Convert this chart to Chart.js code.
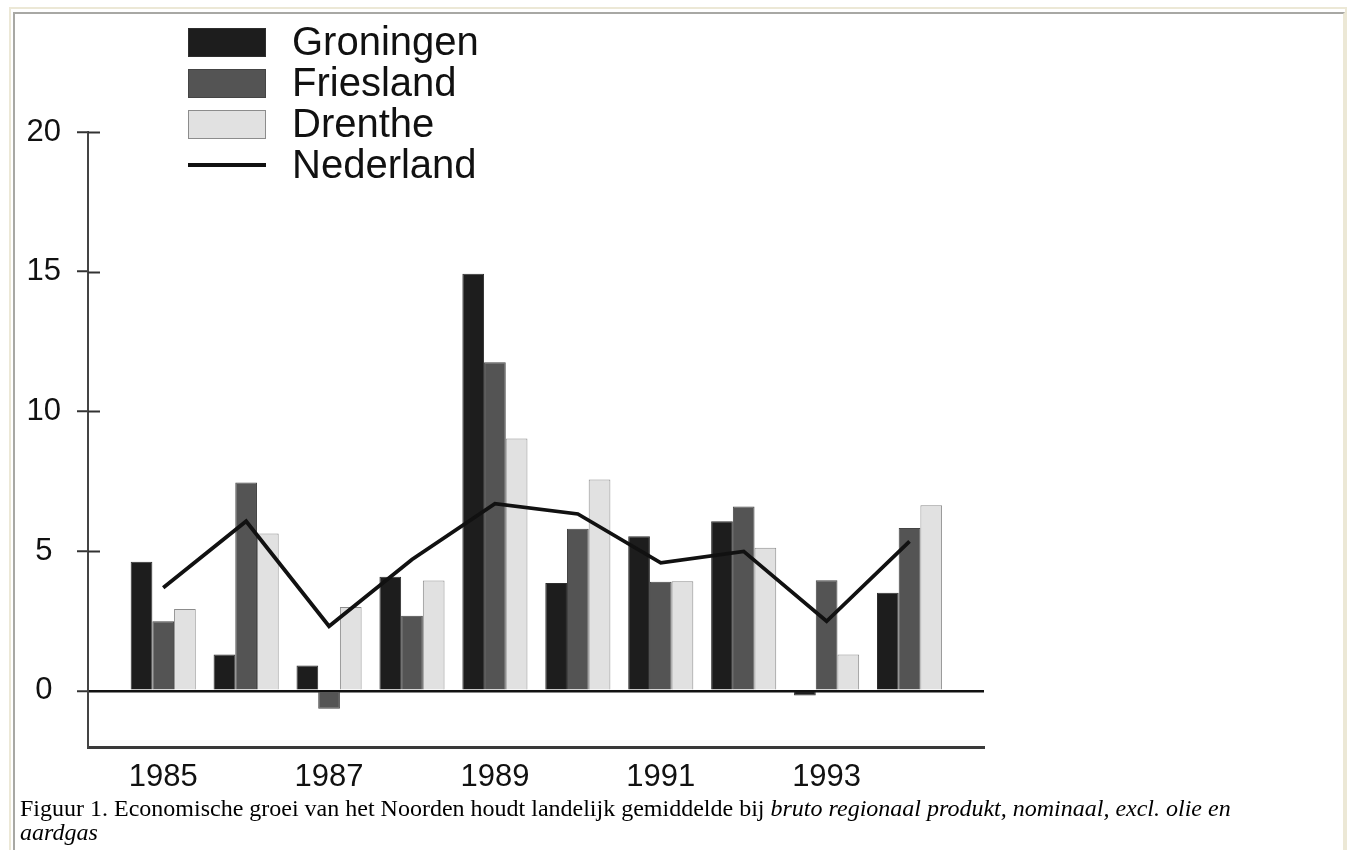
<!DOCTYPE html>
<html>
<head>
<meta charset="utf-8">
<title>Economische groei van het Noorden</title>
<script src="https://cdn.jsdelivr.net/npm/chart.js@4.4.1/dist/chart.umd.min.js"></script>
<style>
    html, body { margin: 0; padding: 0; background: #fff; }
    body { width: 1348px; height: 850px; position: relative; overflow: hidden; }
    .frame-outer {
        position: absolute; left: 9px; top: 7px; width: 1334px; height: 900px;
        border: 2px solid #ece8d6;
    }
    .frame-inner {
        position: absolute; left: 13px; top: 12px; width: 1328px; height: 900px;
        border-top: 2px solid #a8a8a4; border-left: 2px solid #a8a8a4; border-right: 2px solid #ece8d6;
    }
    #chart-wrap { position: absolute; left: 0; top: 0; width: 1348px; height: 800px; }
    #legend {
        position: absolute; left: 188px; top: 21px;
        font-family: "Liberation Sans", Arial, sans-serif; font-size: 40px; color: #111;
    }
    .legend-row { position: relative; height: 41px; line-height: 41px; padding-left: 104px; }
    .legend-swatch { position: absolute; left: 0; top: 7px; width: 78px; height: 29px; box-sizing: border-box; }
    .legend-line { position: absolute; left: 0; top: 19px; width: 78px; height: 4px; }
    #caption {
        position: absolute; left: 20px; top: 796px; width: 1250px;
        font-family: "Liberation Serif", "Times New Roman", serif; font-size: 24px; line-height: 24px; color: #000;
    }
</style>
</head>
<body>
<div class="frame-outer"></div>
<div class="frame-inner"></div>
<div id="chart-wrap"><canvas id="growthChart"></canvas></div>
<div id="legend"></div>
<div id="caption">Figuur 1. Economische groei van het Noorden houdt landelijk gemiddelde bij <i>bruto regionaal produkt, nominaal, excl. olie en aardgas</i></div>

<script>
// Data (growth in %)
const years = [1985, 1986, 1987, 1988, 1989, 1990, 1991, 1992, 1993, 1994];
const groningen = [4.62, 1.30, 0.91, 4.08, 14.93, 3.86, 5.53, 6.07, -0.17, 3.51];
const friesland = [2.49, 7.46, -0.64, 2.69, 11.76, 5.80, 3.90, 6.60, 3.96, 5.83];
const drenthe = [2.93, 5.63, 3.00, 3.95, 9.03, 7.56, 3.92, 5.12, 1.30, 6.64];
const nederland = [3.69, 6.07, 2.31, 4.70, 6.70, 6.33, 4.58, 4.99, 2.49, 5.35];

const seriesLabels = ['Groningen', 'Friesland', 'Drenthe', 'Nederland'];
const xTickValues = [1985, 1987, 1989, 1991, 1993];
const yTickValues = [0, 5, 10, 15, 20];

const axisFont = { family: '"Liberation Sans", Arial, sans-serif', size: 31 };

/**
 * Pair each value with its year for the linear x axis
 */
function toPoints(values) {
    return years.map((year, i) => ({ x: year, y: values[i] }));
}

/**
 * Short tick marks that reach into the plot from the y axis
 */
const innerTicks = {
    id: 'innerTicks',
    afterDatasetsDraw(chart) {
        const y = chart.scales.y;
        const ctx = chart.ctx;
        ctx.save();
        ctx.strokeStyle = '#333';
        ctx.lineWidth = 2;
        y.ticks.forEach(t => {
            if (t.value === 0) return;
            const py = Math.round(y.getPixelForValue(t.value)) + 0.5;
            ctx.beginPath();
            ctx.moveTo(chart.chartArea.left, py);
            ctx.lineTo(chart.chartArea.left + 12, py);
            ctx.stroke();
        });
        ctx.restore();
    }
};

function buildLegend(colors) {
    const legend = document.getElementById('legend');
    seriesLabels.forEach((label, i) => {
        const row = document.createElement('div');
        row.className = 'legend-row';
        const mark = document.createElement('span');
        if (i < 3) {
            mark.className = 'legend-swatch';
            mark.style.background = colors[i].fill;
            mark.style.border = '1px solid ' + colors[i].border;
        } else {
            mark.className = 'legend-line';
            mark.style.background = colors[i].fill;
        }
        row.appendChild(mark);
        row.appendChild(document.createTextNode(label));
        legend.appendChild(row);
    });
}

function createGrowthChart(canvasId) {
    const canvas = document.getElementById(canvasId);
    const ctx = canvas.getContext('2d');

    const colors = [
        { fill: '#1d1d1d', border: '#2e2e2e' },
        { fill: '#545454', border: '#444444' },
        { fill: '#e1e1e1', border: '#8c8c8c' },
        { fill: '#111111', border: '#111111' }
    ];
    buildLegend(colors);

    const barStyle = (i) => ({
        backgroundColor: colors[i].fill,
        borderColor: colors[i].border,
        borderWidth: 1,
        barPercentage: 1.0,
        categoryPercentage: 0.785,
        order: 1
    });

    return new Chart(ctx, {
        type: 'bar',
        data: {
            datasets: [
                { label: seriesLabels[0], data: toPoints(groningen), ...barStyle(0) },
                { label: seriesLabels[1], data: toPoints(friesland), ...barStyle(1) },
                { label: seriesLabels[2], data: toPoints(drenthe), ...barStyle(2) },
                {
                    type: 'line',
                    label: seriesLabels[3],
                    data: toPoints(nederland),
                    borderColor: colors[3].fill,
                    borderWidth: 3.8,
                    pointRadius: 0,
                    tension: 0,
                    fill: false,
                    order: 0
                }
            ]
        },
        options: {
            responsive: true,
            maintainAspectRatio: false,
            animation: false,
            layout: {
                padding: { left: 0, top: 132, right: 364, bottom: 0 }
            },
            plugins: {
                legend: { display: false },
                title: { display: false },
                tooltip: { enabled: false }
            },
            scales: {
                x: {
                    type: 'linear',
                    min: 1984.093,
                    max: 1994.898,
                    offset: false,
                    afterBuildTicks: (scale) => {
                        scale.ticks = xTickValues.map(v => ({ value: v }));
                    },
                    afterFit: (scale) => { scale.height = 53; },
                    ticks: {
                        font: axisFont,
                        color: '#111',
                        padding: 12,
                        maxRotation: 0,
                        callback: (value) => String(value)
                    },
                    grid: { display: true, drawOnChartArea: false, drawTicks: false, offset: false },
                    border: { display: true, color: '#3a3a3a', width: 3 }
                },
                y: {
                    min: -2.01,
                    max: 20,
                    afterBuildTicks: (scale) => {
                        scale.ticks = yTickValues.map(v => ({ value: v }));
                    },
                    afterFit: (scale) => { scale.width = 88; },
                    ticks: {
                        font: axisFont,
                        color: '#111',
                        padding: 16,
                        crossAlign: 'center',
                        callback: (value) => String(value)
                    },
                    grid: {
                        drawTicks: true,
                        tickLength: 11,
                        tickWidth: 2,
                        tickColor: '#333',
                        lineWidth: 2.5,
                        color: (c) => (c.tick && c.tick.value === 0) ? '#111' : 'rgba(0,0,0,0)'
                    },
                    border: { display: true, color: '#444', width: 2 }
                }
            }
        },
        plugins: [innerTicks]
    });
}

createGrowthChart('growthChart');
</script>
</body>
</html>
